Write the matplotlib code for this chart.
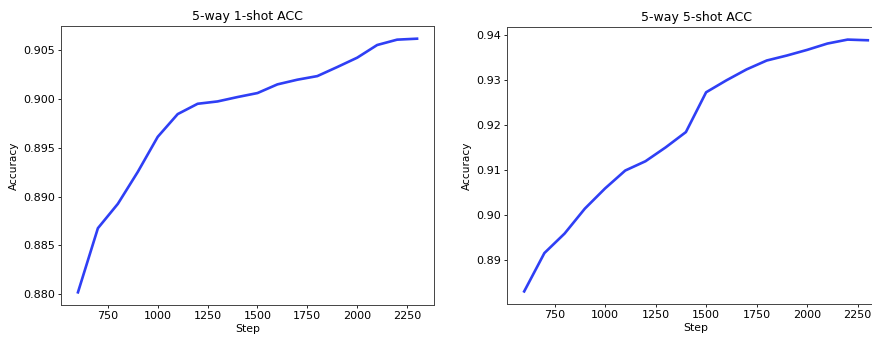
import matplotlib
matplotlib.use("Agg")
import matplotlib.pyplot as plt

steps = [600, 700, 800, 900, 1000, 1100, 1200, 1300, 1400, 1500,
         1600, 1700, 1800, 1900, 2000, 2100, 2200, 2300]
acc_1shot = [0.88017, 0.88675, 0.88925, 0.89253, 0.89613, 0.89846, 0.89952,
             0.89976, 0.90021, 0.90062, 0.90151, 0.90199, 0.90236, 0.90329,
             0.90425, 0.90555, 0.90610, 0.90620]
acc_5shot = [0.88303, 0.89154, 0.89587, 0.90139, 0.90587, 0.90985, 0.91191,
             0.91499, 0.91838, 0.92721, 0.92985, 0.93228, 0.93426, 0.93537,
             0.93662, 0.93802, 0.93890, 0.93875]
titles = ["5-way 1-shot ACC", "5-way 5-shot ACC"]
xticks = [750, 1000, 1250, 1500, 1750, 2000, 2250]

W, H = 872, 343
fig = plt.figure(figsize=(W / 100, H / 100), dpi=100)
ax1 = fig.add_axes([61 / W, 1 - 305 / H, (434 - 61) / W, (305 - 26) / H])
ax2 = fig.add_axes([507 / W, 1 - 304 / H, (885 - 507) / W, (304 - 27) / H])

line_color = "#2f3ff5"
for ax, data, title in zip([ax1, ax2], [acc_1shot, acc_5shot], titles):
    ax.plot(steps, data, color=line_color, linewidth=1.9)
    ax.set_title(title, fontsize=9, pad=4)
    ax.set_xlabel("Step", fontsize=7.8, labelpad=2)
    ax.set_ylabel("Accuracy", fontsize=7.6, labelpad=3)
    ax.set_xticks(xticks)
    ax.tick_params(labelsize=8, length=2.5, width=0.6, pad=2)
    for s in ax.spines.values():
        s.set_color("#444444")
        s.set_linewidth(0.7)

ax2.set_yticks([0.89, 0.90, 0.91, 0.92, 0.93, 0.94])
ax1.set_yticks([0.880, 0.885, 0.890, 0.895, 0.900, 0.905])

fig.savefig("out.png", dpi=100)
